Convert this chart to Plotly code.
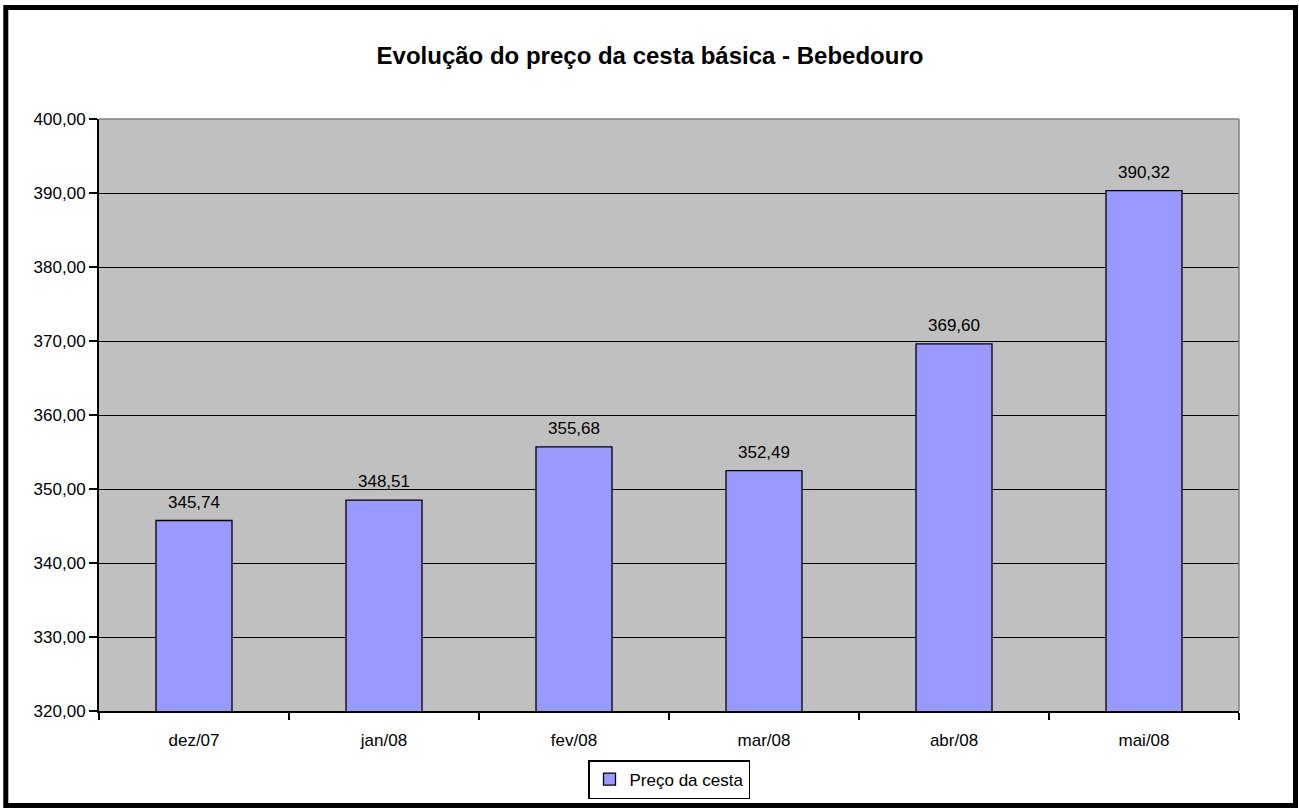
import plotly.graph_objects as go

categories = ["dez/07", "jan/08", "fev/08", "mar/08", "abr/08", "mai/08"]
precos = [345.74, 348.51, 355.68, 352.49, 369.60, 390.32]
serie_nome = "Preço da cesta"
titulo = "<b>Evolução do preço da cesta básica - Bebedouro</b>"

FONT = "Liberation Sans, Arial, sans-serif"

# pixel -> paper helpers (plot area 99..1239 x, 119..711 y)
def px(x):
    return (x - 99) / 1140.0

def py(y):
    return (711 - y) / 592.0

fig = go.Figure()
fig.add_trace(go.Bar(
    x=categories, y=precos, name=serie_nome,
    marker=dict(color="#9999FF", line=dict(color="black", width=1.3)),
    showlegend=True,
))

annotations = [
    dict(x=c, y=v, xref="x", yref="y", text=f"{v:.2f}".replace(".", ","),
         showarrow=False, yanchor="bottom", yshift=7,
         font=dict(family=FONT, size=17, color="black"))
    for c, v in zip(categories, precos)
]

fig.update_layout(
    width=1299, height=808,
    margin=dict(l=99, r=60, t=119, b=97, autoexpand=False),
    paper_bgcolor="white", plot_bgcolor="#C0C0C0",
    separators=",.",
    font=dict(family=FONT, size=17, color="black"),
    bargap=0.6,
    title=dict(text=titulo, x=650/1299, xanchor="center", y=1-56/808, yanchor="middle",
               font=dict(family=FONT, size=24, color="black")),
    xaxis=dict(showline=True, linecolor="black", linewidth=2,
               ticks="outside", ticklen=7, tickwidth=1.5, tickcolor="black",
               tickson="boundaries", showgrid=False, automargin=False,
               tickfont=dict(family=FONT, size=17), ticklabelstandoff=13),
    yaxis=dict(range=[320, 400], dtick=10, tickformat=".2f",
               showline=True, linecolor="black", linewidth=2,
               ticks="outside", ticklen=8, tickwidth=1.5, tickcolor="black",
               showgrid=True, gridcolor="black", gridwidth=1.2, automargin=False,
               zeroline=False, tickfont=dict(family=FONT, size=17)),
    legend=dict(x=0.5, xanchor="center", y=py(760), yanchor="top",
                orientation="h", bordercolor="black", borderwidth=1.5,
                bgcolor="white", itemwidth=30,
                font=dict(family=FONT, size=17)),
    annotations=annotations,
    shapes=[
        dict(type="line", xref="paper", yref="paper", x0=0, x1=1, y0=1, y1=1,
             line=dict(color="#808080", width=1.5), layer="above"),
        dict(type="line", xref="paper", yref="paper", x0=1, x1=1, y0=0, y1=1,
             line=dict(color="#808080", width=1.5), layer="above"),
        dict(type="rect", xref="paper", yref="paper",
             x0=px(5.8), x1=px(1295.5), y0=py(805.5), y1=py(7.5),
             line=dict(color="black", width=5), fillcolor="rgba(0,0,0,0)"),
    ],
)

fig.write_html("out.html", config={"displayModeBar": False},
               post_script="document.body.style.margin='0';document.body.style.overflow='hidden';")
